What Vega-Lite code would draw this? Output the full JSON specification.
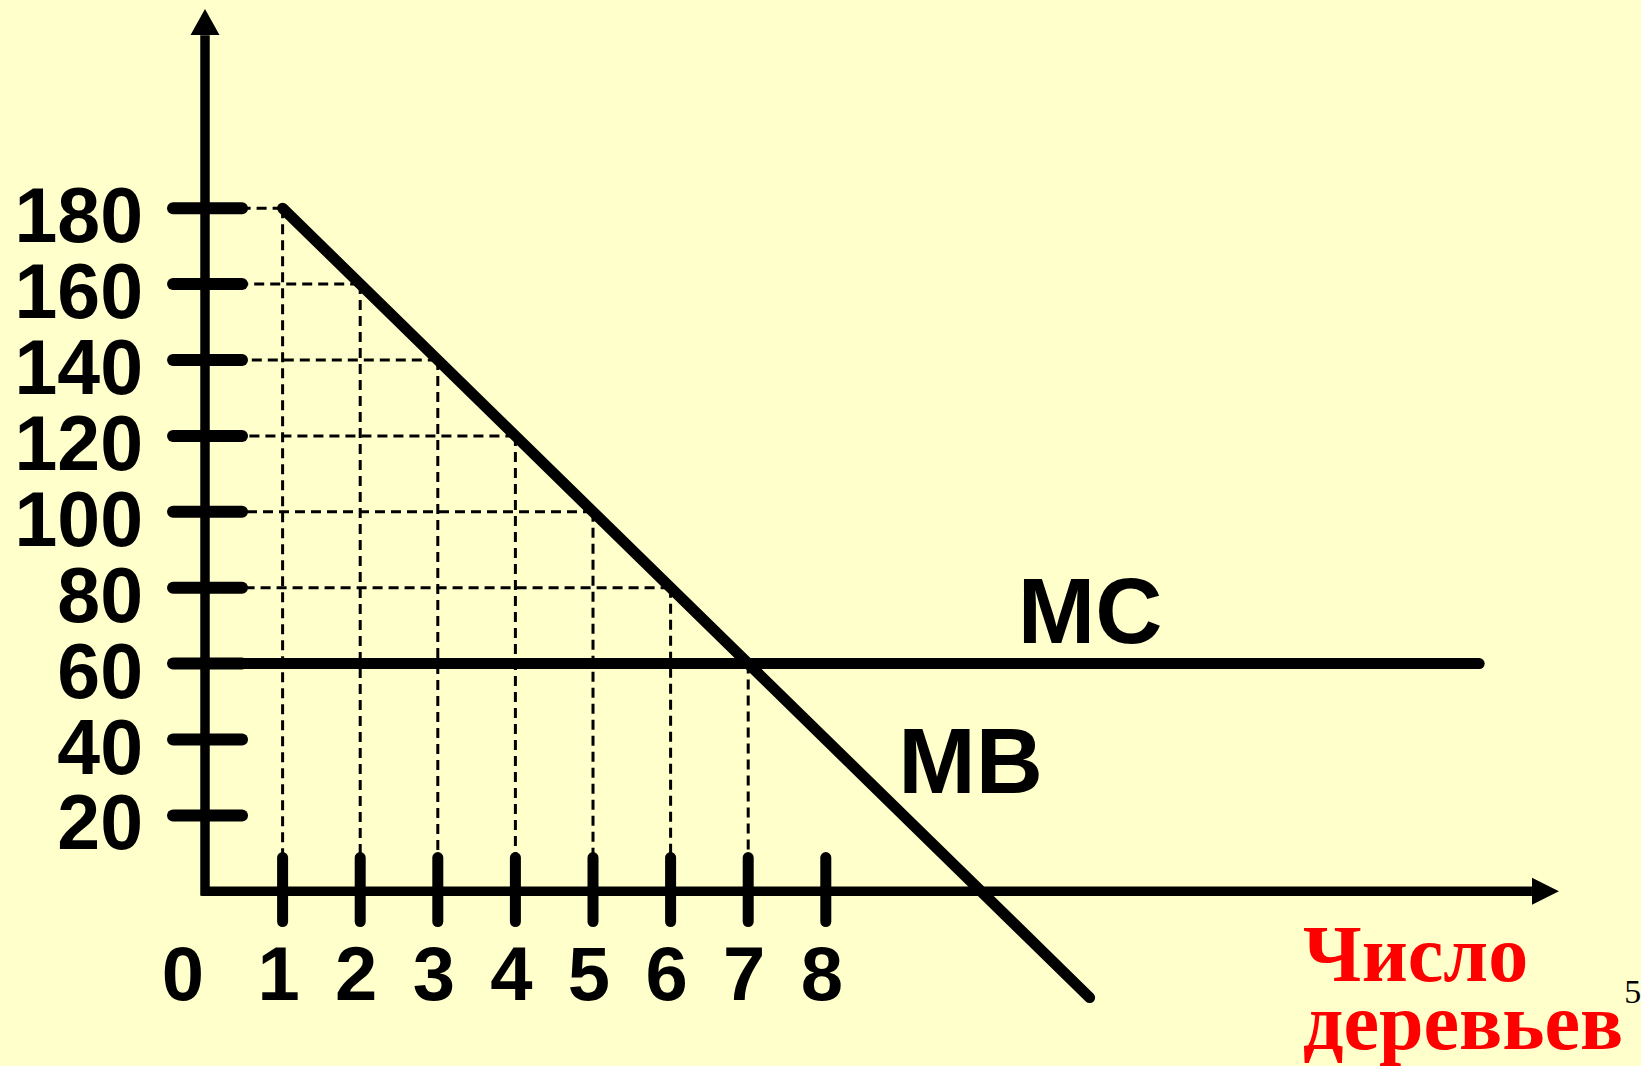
{
  "$schema": "https://vega.github.io/schema/vega-lite/v6.json",
  "width": 1641,
  "height": 1066,
  "autosize": {"type": "fit", "contains": "padding"},
  "padding": 0,
  "background": "#FFFFCC",
  "config": {"view": {"stroke": null}},
  "datasets": {
    "mb": [{"x": 1, "y": 180}, {"x": 11.4, "y": -28}],
    "mc": [{"x": 0, "y": 60, "x2": 16.42}],
    "grid": [
      {"n": 1, "mb": 180}, {"n": 2, "mb": 160}, {"n": 3, "mb": 140},
      {"n": 4, "mb": 120}, {"n": 5, "mb": 100}, {"n": 6, "mb": 80}, {"n": 7, "mb": 60}
    ],
    "yticks": [{"v": 20}, {"v": 40}, {"v": 60}, {"v": 80}, {"v": 100}, {"v": 120}, {"v": 140}, {"v": 160}, {"v": 180}],
    "xticks": [{"n": 1}, {"n": 2}, {"n": 3}, {"n": 4}, {"n": 5}, {"n": 6}, {"n": 7}, {"n": 8}],
    "axes": [
      {"x": 0, "y": -1.2, "x2": 0, "y2": 225.6},
      {"x": -0.045, "y": 0, "x2": 17.1, "y2": 0}
    ],
    "arrows": [
      {"x": 17.274, "y": 0, "dir": "right"},
      {"x": 0, "y": 229.06, "dir": "up"}
    ]
  },
  "layer": [
    {
      "data": {"name": "grid"},
      "mark": {"type": "rule", "color": "#000000", "strokeWidth": 3, "strokeDash": [10, 6]},
      "encoding": {
        "x": {"field": "n", "type": "quantitative", "scale": {"domain": [-2.6418, 18.5052], "nice": false, "zero": false}, "axis": null},
        "y": {"field": "mb", "type": "quantitative", "scale": {"domain": [-46.03, 234.86], "nice": false, "zero": false}, "axis": null},
        "y2": {"datum": 0}
      }
    },
    {
      "data": {"name": "grid"},
      "transform": [{"filter": "datum.n <= 6"}],
      "mark": {"type": "rule", "color": "#000000", "strokeWidth": 3, "strokeDash": [10, 6]},
      "encoding": {
        "x": {"field": "n", "type": "quantitative", "scale": {"domain": [-2.6418, 18.5052], "nice": false, "zero": false}, "axis": null},
        "x2": {"datum": 0},
        "y": {"field": "mb", "type": "quantitative", "scale": {"domain": [-46.03, 234.86], "nice": false, "zero": false}, "axis": null}
      }
    },
    {
      "data": {"name": "mc"},
      "mark": {"type": "rule", "color": "#000000", "strokeWidth": 11, "strokeCap": "round"},
      "encoding": {
        "x": {"field": "x", "type": "quantitative", "scale": {"domain": [-2.6418, 18.5052], "nice": false, "zero": false}, "axis": null},
        "x2": {"field": "x2"},
        "y": {"field": "y", "type": "quantitative", "scale": {"domain": [-46.03, 234.86], "nice": false, "zero": false}, "axis": null}
      }
    },
    {
      "data": {"name": "mb"},
      "mark": {"type": "line", "color": "#000000", "strokeWidth": 11, "strokeCap": "round"},
      "encoding": {
        "x": {"field": "x", "type": "quantitative", "scale": {"domain": [-2.6418, 18.5052], "nice": false, "zero": false}, "axis": null},
        "y": {"field": "y", "type": "quantitative", "scale": {"domain": [-46.03, 234.86], "nice": false, "zero": false}, "axis": null}
      }
    },
    {
      "data": {"name": "axes"},
      "mark": {"type": "rule", "color": "#000000", "strokeWidth": 9.5, "strokeCap": "butt"},
      "encoding": {
        "x": {"field": "x", "type": "quantitative", "scale": {"domain": [-2.6418, 18.5052], "nice": false, "zero": false}, "axis": null},
        "x2": {"field": "x2"},
        "y": {"field": "y", "type": "quantitative", "scale": {"domain": [-46.03, 234.86], "nice": false, "zero": false}, "axis": null},
        "y2": {"field": "y2"}
      }
    },
    {
      "data": {"name": "yticks"},
      "mark": {"type": "rule", "color": "#000000", "strokeWidth": 12, "strokeCap": "round"},
      "encoding": {
        "x": {"datum": -0.412, "type": "quantitative", "scale": {"domain": [-2.6418, 18.5052], "nice": false, "zero": false}, "axis": null},
        "x2": {"datum": 0.477},
        "y": {"field": "v", "type": "quantitative", "scale": {"domain": [-46.03, 234.86], "nice": false, "zero": false}, "axis": null}
      }
    },
    {
      "data": {"name": "xticks"},
      "mark": {"type": "rule", "color": "#000000", "strokeWidth": 11, "strokeCap": "round"},
      "encoding": {
        "x": {"field": "n", "type": "quantitative", "scale": {"domain": [-2.6418, 18.5052], "nice": false, "zero": false}, "axis": null},
        "y": {"datum": 8.9, "type": "quantitative", "scale": {"domain": [-46.03, 234.86], "nice": false, "zero": false}, "axis": null},
        "y2": {"datum": -7.96}
      }
    },
    {
      "data": {"name": "arrows"},
      "mark": {"type": "point", "filled": true, "color": "#000000", "opacity": 1, "strokeWidth": 0, "size": 841},
      "encoding": {
        "x": {"field": "x", "type": "quantitative", "scale": {"domain": [-2.6418, 18.5052], "nice": false, "zero": false}, "axis": null},
        "y": {"field": "y", "type": "quantitative", "scale": {"domain": [-46.03, 234.86], "nice": false, "zero": false}, "axis": null},
        "shape": {"field": "dir", "type": "nominal", "scale": {"domain": ["right", "up"], "range": ["M-0.93,-0.93L0.93,0L-0.93,0.93Z", "M-1,0.9L0,-0.9L1,0.9Z"]}, "legend": null}
      }
    },
    {
      "data": {"name": "yticks"},
      "mark": {"type": "text", "font": "Liberation Sans", "fontWeight": "bold", "fontSize": 77, "align": "right", "baseline": "alphabetic", "dx": -62, "dy": 34, "color": "#000000"},
      "encoding": {
        "x": {"datum": 0, "type": "quantitative", "scale": {"domain": [-2.6418, 18.5052], "nice": false, "zero": false}, "axis": null},
        "y": {"field": "v", "type": "quantitative", "scale": {"domain": [-46.03, 234.86], "nice": false, "zero": false}, "axis": null},
        "text": {"field": "v", "type": "quantitative"}
      }
    },
    {
      "data": {"name": "xticks"},
      "mark": {"type": "text", "font": "Liberation Sans", "fontWeight": "bold", "fontSize": 76, "align": "center", "baseline": "alphabetic", "dx": -4, "dy": 109, "color": "#000000"},
      "encoding": {
        "x": {"field": "n", "type": "quantitative", "scale": {"domain": [-2.6418, 18.5052], "nice": false, "zero": false}, "axis": null},
        "y": {"datum": 0, "type": "quantitative", "scale": {"domain": [-46.03, 234.86], "nice": false, "zero": false}, "axis": null},
        "text": {"field": "n", "type": "quantitative"}
      }
    },
    {
      "data": {"values": [{"n": 0}]},
      "mark": {"type": "text", "font": "Liberation Sans", "fontWeight": "bold", "fontSize": 76, "align": "center", "baseline": "alphabetic", "dx": -22, "dy": 109, "color": "#000000"},
      "encoding": {
        "x": {"field": "n", "type": "quantitative", "scale": {"domain": [-2.6418, 18.5052], "nice": false, "zero": false}, "axis": null},
        "y": {"datum": 0, "type": "quantitative", "scale": {"domain": [-46.03, 234.86], "nice": false, "zero": false}, "axis": null},
        "text": {"field": "n", "type": "quantitative"}
      }
    },
    {
      "data": {"values": [{"label": "MC", "x": 11.405, "y": 65.43}, {"label": "MB", "x": 9.865, "y": 25.9}]},
      "mark": {"type": "text", "font": "Liberation Sans", "fontWeight": "bold", "fontSize": 93, "align": "center", "baseline": "alphabetic", "color": "#000000"},
      "encoding": {
        "x": {"field": "x", "type": "quantitative", "scale": {"domain": [-2.6418, 18.5052], "nice": false, "zero": false}, "axis": null},
        "y": {"field": "y", "type": "quantitative", "scale": {"domain": [-46.03, 234.86], "nice": false, "zero": false}, "axis": null},
        "text": {"field": "label", "type": "nominal"}
      }
    },
    {
      "data": {"values": [{"x": 14.15, "y": -23.64}]},
      "mark": {"type": "text", "font": "Liberation Serif", "fontWeight": "bold", "fontSize": 80, "align": "left", "baseline": "alphabetic", "lineHeight": 68, "color": "#FF0000", "text": ["Число", "деревьев"], "clip": true},
      "encoding": {
        "x": {"field": "x", "type": "quantitative", "scale": {"domain": [-2.6418, 18.5052], "nice": false, "zero": false}, "axis": null},
        "y": {"field": "y", "type": "quantitative", "scale": {"domain": [-46.03, 234.86], "nice": false, "zero": false}, "axis": null}
      }
    },
    {
      "data": {"values": [{"x": 18.29, "y": -29.43}]},
      "mark": {"type": "text", "font": "Liberation Serif", "fontSize": 34, "align": "left", "baseline": "alphabetic", "color": "#000000", "text": "5", "clip": true},
      "encoding": {
        "x": {"field": "x", "type": "quantitative", "scale": {"domain": [-2.6418, 18.5052], "nice": false, "zero": false}, "axis": null},
        "y": {"field": "y", "type": "quantitative", "scale": {"domain": [-46.03, 234.86], "nice": false, "zero": false}, "axis": null}
      }
    }
  ]
}
